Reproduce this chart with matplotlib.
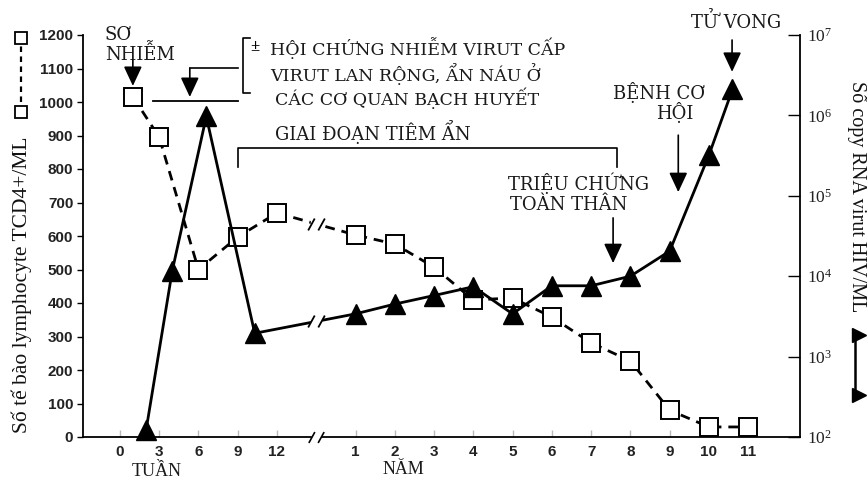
import numpy as np
import matplotlib
matplotlib.use("Agg")
import matplotlib.pyplot as plt
from matplotlib.path import Path
from matplotlib.lines import Line2D

# ---------------- data ----------------
week_labels = ["0", "3", "6", "9", "12"]
year_labels = [str(i) for i in range(1, 12)]
week_ticks = [0, 3, 6, 9, 12]
year_ticks = list(range(1, 12))

# CD4 count (left axis, open squares, dashed)
cd4_weeks = [1, 3, 6, 9, 12]
cd4_week_counts = [1015, 895, 500, 597, 669]
cd4_years = [1, 2, 3, 4, 5, 6, 7, 8, 9, 10, 11]
cd4_year_counts = [603, 576, 507, 409, 415, 358, 281, 227, 80, 30, 30]

# HIV RNA copies/ml (right log axis, filled triangles, solid)
rna_weeks = [2, 4, 6.6, 10.3]
rna_week_copies = [122, 11700, 9.7e5, 1950]
rna_years = [1, 2, 3, 4, 5, 6, 7, 8, 9, 10, 10.6]
rna_year_copies = [3400, 4500, 5750, 7400, 3400, 7600, 7600, 10000, 20500, 3.2e5, 2.1e6]

# broken time axis: weeks then years
def week_pos(w):
    return np.asarray(w, dtype=float) / 3.0

def year_pos(y):
    return np.asarray(y, dtype=float) + 5.0

BREAK = 5.0

SERIF = ["Liberation Serif", "DejaVu Serif"]
WSERIF = ["DejaVu Serif", "Liberation Serif"]
SANS = ["Liberation Sans", "DejaVu Sans"]
plt.rcParams["font.family"] = SERIF
plt.rcParams["mathtext.fontset"] = "custom"
plt.rcParams["mathtext.rm"] = "Liberation Sans"
plt.rcParams["mathtext.it"] = "Liberation Sans"
plt.rcParams["mathtext.bf"] = "Liberation Sans:bold"

W, H = 867, 482
fig = plt.figure(figsize=(W / 100, H / 100), dpi=100)
ax = fig.add_axes([83 / W, 45 / H, 717 / W, 402 / H])
ax2 = ax.twinx()

ax.set_xlim(-0.94, 17.32)
ax.set_ylim(0, 1200)
ax2.set_yscale("log")
ax2.set_ylim(1e2, 1e7)

for a in (ax, ax2):
    a.spines["top"].set_visible(False)
    a.patch.set_visible(False)
ax.spines["right"].set_visible(False)
ax2.spines["left"].set_visible(False)
ax2.spines["bottom"].set_visible(False)
for s in ("left", "bottom"):
    ax.spines[s].set_linewidth(1.3)
ax2.spines["right"].set_linewidth(1.3)

# ticks
ax.set_yticks(range(0, 1300, 100))
ax.tick_params(axis="y", direction="out", length=4, width=1, labelsize=11,
               labelcolor="#222", pad=3)
for t in ax.get_yticklabels():
    t.set_family(SANS)
    t.set_fontweight("bold")

xt = list(week_pos(week_ticks)) + list(year_pos(year_ticks))
ax.set_xticks(xt)
ax.set_xticklabels(week_labels + year_labels)
ax.tick_params(axis="x", direction="in", length=5, width=1, color="#bbbbbb",
               labelsize=11, labelcolor="#222", pad=6)
for t in ax.get_xticklabels():
    t.set_family(SANS)
    t.set_fontweight("bold")

decades = [1e2, 1e3, 1e4, 1e5, 1e6, 1e7]
ax2.set_yticks(decades)
ax2.set_yticklabels([r"$\mathregular{10^{%d}}$" % int(np.log10(d)) for d in decades])
ax2.yaxis.set_minor_locator(matplotlib.ticker.NullLocator())
ax2.tick_params(axis="y", direction="in", length=9, width=1, labelsize=12.5,
                labelcolor="#222", pad=5)

# ---------------- series ----------------
cd4_x = np.concatenate([week_pos(cd4_weeks), year_pos(cd4_years)])
cd4_y = np.array(cd4_week_counts + cd4_year_counts, dtype=float)
rna_x = np.concatenate([week_pos(rna_weeks), year_pos(rna_years)])
rna_y = np.array(rna_week_copies + rna_year_copies, dtype=float)

ax2.plot(rna_x, rna_y, color="black", lw=2.0, marker="^", markersize=14,
         markerfacecolor="black", markeredgecolor="black", zorder=3, clip_on=False)
ax.plot(cd4_x, cd4_y, color="black", lw=2.0, linestyle=(0, (3.5, 2.5)), zorder=4)
ax.plot(cd4_x, cd4_y, linestyle="none", marker="s", markersize=13,
        markerfacecolor="white", markeredgecolor="black", markeredgewidth=1.4,
        zorder=5, clip_on=False)

# break marks
brk = Path([(-0.7, -0.5), (-0.15, 0.5), (0.15, -0.5), (0.7, 0.5)],
           [Path.MOVETO, Path.LINETO, Path.MOVETO, Path.LINETO])
cd4_b = np.interp(BREAK, cd4_x, cd4_y)
rna_b = 10 ** np.interp(BREAK, rna_x, np.log10(rna_y))
ax.plot([BREAK], [cd4_b], marker="s", markersize=7, color="white", zorder=6, linestyle="none")
ax.plot([BREAK], [cd4_b], marker=brk, markersize=12, color="black", mew=1.3,
        zorder=7, linestyle="none")
ax2.plot([BREAK], [rna_b], marker="s", markersize=7, color="white", zorder=6, linestyle="none")
ax2.plot([BREAK], [rna_b], marker=brk, markersize=12, color="black", mew=1.3,
         zorder=7, linestyle="none")
ax.plot([BREAK], [0], marker="s", markersize=6, color="white", zorder=6,
        linestyle="none", clip_on=False)
ax.plot([BREAK], [0], marker=brk, markersize=11, color="black", mew=1.2,
        zorder=7, linestyle="none", clip_on=False)

# ---------------- annotations ----------------
TXT = dict(family=WSERIF, fontsize=13, color="#1a1a1a")
TXTB = dict(family=WSERIF, fontsize=12.5, color="#1a1a1a")
ARW = dict(arrowstyle="-|>,head_length=0.6,head_width=0.28", color="black",
           lw=1.2, shrinkA=0, shrinkB=0, mutation_scale=20)

def arrow(x, y0, y1):
    ax.annotate("", xy=(x, y1), xytext=(x, y0), arrowprops=ARW,
                annotation_clip=False)

ax.text(-0.38, 1226, "SƠ\nNHIỄM", ha="left", va="top", linespacing=1.0,
        clip_on=False, **TXT)
arrow(0.33, 1125, 1048)

ax.plot([3.0, 1.78], [1101, 1101], color="black", lw=1.2, clip_on=False)
arrow(1.78, 1101, 1015)
ax.plot([0.84, 3.0], [1003, 1003], color="black", lw=1.3, clip_on=False)
ax.plot([3.31, 3.13, 3.13, 3.31], [1191, 1191, 1027, 1027], color="black",
        lw=1.2, clip_on=False)
ax.text(3.44, 1164, "±", ha="center", va="center", clip_on=False,
        family=SERIF, fontsize=12, fontweight="bold")
ax.text(3.82, 1160, "HỘI CHỨNG NHIỄM VIRUT CẤP", ha="left", va="center",
        clip_on=False, **TXTB)
ax.text(3.82, 1084, "VIRUT LAN RỘNG, ẨN NÁU Ở", ha="left", va="center", **TXTB)
ax.text(3.95, 1010, "CÁC CƠ QUAN BẠCH HUYẾT", ha="left", va="center", **TXTB)

ax.text(3.95, 910, "GIAI ĐOẠN TIÊM ẨN", ha="left", va="center", **TXT)
ax.plot([3.0, 3.0, 12.66, 12.66], [806, 863, 863, 806], color="black", lw=1.2)

ax.text(9.89, 758, "TRIỆU CHỨNG", ha="left", va="center", **TXT)
ax.text(9.94, 693, "TOÀN THÂN", ha="left", va="center", **TXT)
arrow(12.56, 654, 519)

ax.text(13.73, 1027, "BỆNH CƠ", ha="center", va="center", **TXT)
ax.text(14.14, 970, "HỘI", ha="center", va="center", **TXT)
arrow(14.22, 901, 731)

ax.text(15.69, 1239, "TỬ VONG", ha="center", va="center", clip_on=False, **TXT)
arrow(15.59, 1185, 1090)

# x-axis group labels
fig.text(157 / W, 1 - 472 / H, "TUẦN", ha="center", va="center",
         family=SERIF, fontsize=13, color="#1a1a1a")
fig.text(403 / W, 1 - 470 / H, "NĂM", ha="center", va="center",
         family=SERIF, fontsize=13, color="#1a1a1a")

# axis titles
fig.text(22 / W, 1 - 285 / H, "Số tế bào lymphocyte TCD4+/ML", rotation=90,
         ha="center", va="center", family=SERIF, fontsize=15.5, color="#111")
fig.text(857 / W, 1 - 197 / H, "Số copy RNA virut HIV/ML", rotation=-90,
         ha="center", va="center", family=SERIF, fontsize=14.5, color="#111")

# legend glyphs beside the axis titles
fig.add_artist(Line2D([21 / W, 21 / W], [1 - 112 / H, 1 - 38 / H],
                      transform=fig.transFigure, color="black", lw=1.6,
                      linestyle=(0, (2.5, 2)), marker="s", markersize=9,
                      markerfacecolor="white", markeredgecolor="black",
                      markeredgewidth=1.3))
fig.add_artist(Line2D([855 / W, 855 / W], [1 - 335 / H, 1 - 395 / H],
                      transform=fig.transFigure, color="black", lw=1.8))
fig.add_artist(Line2D([859 / W, 859 / W], [1 - 335 / H, 1 - 395 / H],
                      transform=fig.transFigure, linestyle="none", marker=">",
                      markersize=10, color="black"))

fig.savefig("out.png", dpi=100)
